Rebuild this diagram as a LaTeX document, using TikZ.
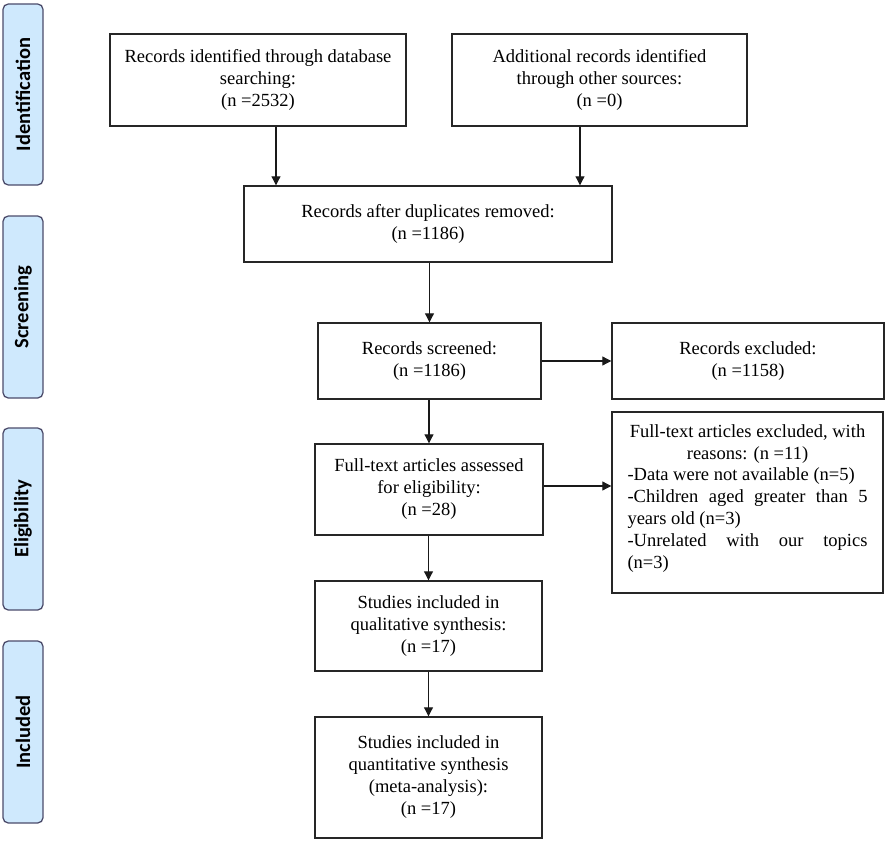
\documentclass[tikz,border=0pt]{standalone}
\usepackage{fontspec}
\setmainfont{Liberation Serif}
\newfontfamily\barfont{Carlito}
\usetikzlibrary{arrows.meta}
\begin{document}
\begin{tikzpicture}[x=0.03cm,y=-0.03cm,
  box/.style={draw=black!85,line width=1.2pt,align=center,inner sep=0pt,
    font=\fontsize{15.8}{18.8}\selectfont},
  phase/.style={draw=black!70!blue!40!gray,line width=1.1pt,fill=phasefill,rounded corners=0.16cm,
    minimum width={40*0.03cm},inner sep=0pt},
  phasetxt/.style={rotate=90,font=\barfont\bfseries\fontsize{17.5}{18}\selectfont},
  arr/.style={draw=black!90,line width=0.9pt,-{Triangle[length=0.27cm,width=0.27cm]}}]
\definecolor{phasefill}{RGB}{207,233,253}
\useasboundingbox (0,0) rectangle (886,842);
% phase bars
\node[phase,minimum height={181*0.03cm}] (pid) at (23,94.5) {};
\node[phasetxt] (tid) at (pid.center) {Identification};
\node[phase,minimum height={182*0.03cm}] (psc) at (23,307) {};
\node[phasetxt] (tsc) at (psc.center) {Screening};
\node[phase,minimum height={182*0.03cm}] (pel) at (23,519) {};
\node[phasetxt] (tel) at (pel.center) {Eligibility};
\node[phase,minimum height={182*0.03cm}] (pin) at (23,732) {};
\node[phasetxt] (tin) at (pin.center) {Included};
% boxes
\node[box,minimum width={296*0.03cm},minimum height={92*0.03cm}] (b1) at (258,80)
  {Records identified through database\\searching:\\(n =2532)};
\node[box,minimum width={295*0.03cm},minimum height={92*0.03cm}] (b2) at (599.5,80)
  {Additional records identified\\through other sources:\\(n =0)};
\node[box,minimum width={368*0.03cm},minimum height={76*0.03cm}] (b3) at (428,224)
  {Records after duplicates removed:\\(n =1186)};
\node[box,minimum width={223*0.03cm},minimum height={76*0.03cm}] (b4) at (429.5,361)
  {Records screened:\\(n =1186)};
\node[box,minimum width={272*0.03cm},minimum height={76*0.03cm}] (b5) at (748,361)
  {Records excluded:\\(n =1158)};
\node[box,minimum width={228*0.03cm},minimum height={91*0.03cm}] (b6) at (429,489.5)
  {Full-text articles assessed\\for eligibility:\\(n =28)};
\node[box,minimum width={271*0.03cm},minimum height={181*0.03cm},align=left] (b7) at (747.5,502.5)
  {\parbox{240\dimexpr0.03cm\relax}{\fontsize{15.8}{18.8}\selectfont
   \centering Full-text articles excluded, with\\reasons: (n =11)\\[-1pt]
   \raggedright
   -Data were not available (n=5)\\
   \hbox to \linewidth{-Children\hfill aged\hfill greater\hfill than\hfill 5}
   years old (n=3)\\
   \hbox to \linewidth{-Unrelated\hfill with\hfill our\hfill topics}
   (n=3)\par\vspace{6pt}}};
\node[box,minimum width={227*0.03cm},minimum height={90*0.03cm}] (b8) at (428.5,626)
  {Studies included in\\qualitative synthesis:\\(n =17)};
\node[box,minimum width={227*0.03cm},minimum height={121*0.03cm}] (b9) at (428.5,777.5)
  {Studies included in\\quantitative synthesis\\(meta-analysis):\\(n =17)};
% arrows
\coordinate (a1) at (276,0);
\coordinate (a2) at (580,0);
\draw[arr] (b1.south -| a1) -- (b3.north -| a1);
\draw[arr] (b2.south -| a2) -- (b3.north -| a2);
\draw[arr] (b3.south -| b4.north) -- (b4.north);
\draw[arr] (b4.east) -- (b5.west);
\draw[arr] (b4.south -| b6.north) -- (b6.north);
\coordinate (a6) at (0,486);
\draw[arr] (b6.east |- a6) -- (b7.west |- a6);
\draw[arr] (b6.south -| b8.north) -- (b8.north);
\draw[arr] (b8.south -| b9.north) -- (b9.north);
\end{tikzpicture}
\end{document}
